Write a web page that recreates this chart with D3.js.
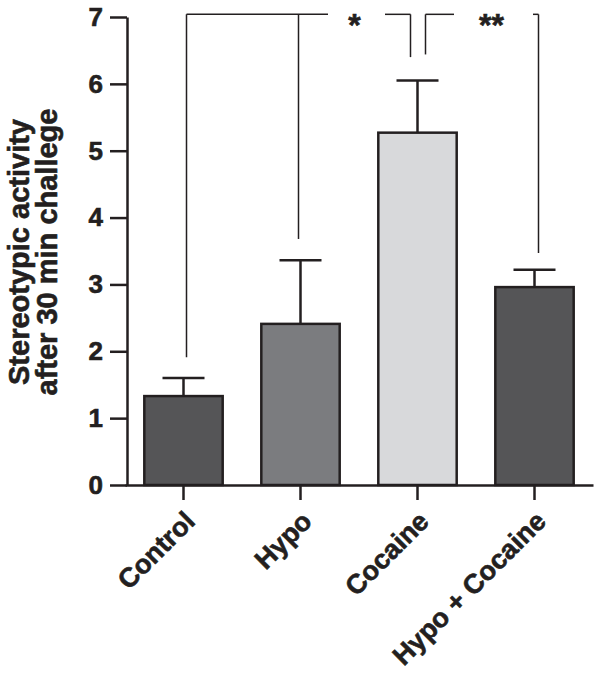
<!DOCTYPE html>
<html lang="en">
<head>
    <meta charset="UTF-8">
    <title>Stereotypic activity</title>
    <script src="https://d3js.org/d3.v7.min.js"></script>
    <style>
        body { margin: 0; background: #fff; }
        text { font-family: "Liberation Sans", Arial, sans-serif; font-weight: bold; fill: #231f20; stroke: #231f20; stroke-width: 0.6px; }
    </style>
</head>
<body>
    <div id="chart"></div>

    <script>
        // Data
        const groups = ["Control", "Hypo", "Cocaine", "Hypo + Cocaine"];
        const means = [1.33, 2.41, 5.27, 2.96];
        const sems = [0.27, 0.95, 0.78, 0.26];
        const fills = ["#555557", "#7b7c7f", "#d8d9db", "#555557"];
        const yTicks = [0, 1, 2, 3, 4, 5, 6, 7];

        // significance brackets: legs (group, offset, bottom value), label and gap
        const sigLabels = ["*", "**"];
        const sigTop = 7.04;
        const sigLegs = [
            [["Control", 3, 1.91], ["Hypo", -2, 3.68], ["Cocaine", -7, 6.40]],
            [["Cocaine", 8, 6.44], ["Hypo + Cocaine", 4, 3.47]]
        ];
        const sigGaps = [[328, 385], [454, 533]];

        const W = 602, H = 677;
        const ink = "#231f20";

        const svg = d3.select("#chart").append("svg")
            .attr("width", W)
            .attr("height", H);

        const x = d3.scaleBand()
            .domain(groups)
            .range([125, 593])
            .paddingInner(0.33)
            .paddingOuter(0.165);

        const y = d3.scaleLinear()
            .domain([0, 7])
            .range([485, 17]);

        const cx = g => x(g) + x.bandwidth() / 2;

        // Bars
        svg.selectAll("rect.bar")
            .data(groups)
            .enter().append("rect")
            .attr("class", "bar")
            .attr("x", d => x(d))
            .attr("width", x.bandwidth())
            .attr("y", (d, i) => y(means[i]))
            .attr("height", (d, i) => y(0) - y(means[i]))
            .attr("fill", (d, i) => fills[i])
            .attr("stroke", ink)
            .attr("stroke-width", 2.5);

        // Error bars (upper only)
        const err = svg.selectAll("g.err")
            .data(groups)
            .enter().append("g")
            .attr("class", "err")
            .attr("stroke", ink)
            .attr("stroke-width", 2.5);

        err.append("line")
            .attr("x1", d => cx(d)).attr("x2", d => cx(d))
            .attr("y1", (d, i) => y(means[i]))
            .attr("y2", (d, i) => y(means[i] + sems[i]));

        err.append("line")
            .attr("x1", d => cx(d) - 21).attr("x2", d => cx(d) + 21)
            .attr("y1", (d, i) => y(means[i] + sems[i]))
            .attr("y2", (d, i) => y(means[i] + sems[i]));

        // Axes
        const yAxis = svg.append("g")
            .attr("transform", "translate(127,0)")
            .call(d3.axisLeft(y).tickValues(yTicks).tickFormat(d3.format("d"))
                .tickSize(17).tickSizeOuter(0).tickPadding(7));

        const xAxis = svg.append("g")
            .attr("transform", `translate(0,${y(0)})`)
            .call(d3.axisBottom(x).tickSize(15).tickSizeOuter(0));

        [yAxis, xAxis].forEach(a => {
            a.selectAll("path, line").attr("stroke", ink).attr("stroke-width", 2.5);
        });

        yAxis.selectAll("text")
            .style("font-size", "26px")
            .attr("fill", ink);

        xAxis.selectAll("text")
            .style("font-size", "27px")
            .attr("fill", ink)
            .attr("text-anchor", "end")
            .attr("y", 0)
            .attr("dy", 0)
            .attr("transform", "translate(13,38) rotate(-45)");

        // Y label
        const yLabel = ["Stereotypic activity", "after 30 min challege"];
        svg.selectAll("text.ylab")
            .data(yLabel)
            .enter().append("text")
            .attr("class", "ylab")
            .attr("text-anchor", "middle")
            .style("font-size", "29px")
            .attr("transform", (d, i) => `translate(${29 + i * 28},252) rotate(-90)`)
            .text(d => d);

        // Significance brackets
        const br = svg.append("g")
            .attr("stroke", ink)
            .attr("stroke-width", 1.5)
            .attr("fill", "none");

        sigLegs.forEach((legs, k) => {
            const xs = legs.map(l => cx(l[0]) + l[1]);
            const x0 = d3.min(xs), x1 = d3.max(xs);
            const gap = sigGaps[k];
            br.append("line")
                .attr("x1", x0).attr("x2", gap[0])
                .attr("y1", y(sigTop)).attr("y2", y(sigTop));
            br.append("line")
                .attr("x1", gap[1]).attr("x2", x1)
                .attr("y1", y(sigTop)).attr("y2", y(sigTop));
            legs.forEach((l, j) => {
                br.append("line")
                    .attr("x1", xs[j]).attr("x2", xs[j])
                    .attr("y1", y(sigTop)).attr("y2", y(l[2]));
            });
            svg.append("text")
                .attr("x", (gap[0] + gap[1]) / 2 - 2)
                .attr("y", y(sigTop) + 22)
                .attr("text-anchor", "middle")
                .style("font-size", "32px")
                .text(sigLabels[k]);
        });
    </script>
</body>
</html>
